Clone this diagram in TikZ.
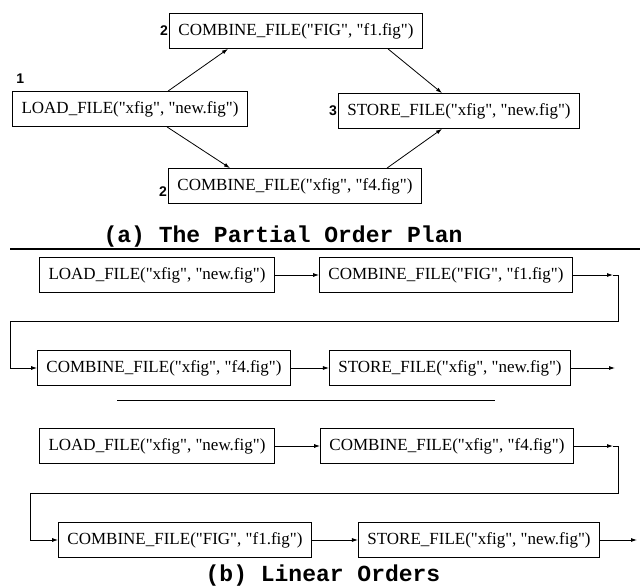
\documentclass[tikz,border=0pt]{standalone}
\usepackage{fontspec}
\setmainfont{Liberation Serif}[Ligatures=TeXOff]
\setsansfont{Liberation Sans}
\setmonofont{Liberation Mono}
\usetikzlibrary{calc}
\usetikzlibrary{positioning}
\usetikzlibrary{arrows.meta}
\tikzset{
  op/.style={draw, line width=0.8pt, minimum height=35pt, inner xsep=9pt,
    font=\fontsize{17}{20}\selectfont},
  num/.style={inner sep=1pt, font=\sffamily\bfseries\fontsize{14}{16}\selectfont},
  heading/.style={inner sep=0pt, font=\ttfamily\bfseries\fontsize{23}{26}\selectfont},
  arr/.style={-{Latex[length=6pt,width=4pt]}, line width=0.8pt}
}

\begin{document}
\begin{tikzpicture}[x=1pt, y=-1pt]
  \useasboundingbox (0,0) rectangle (640,588);

  \node [op] (load1) at (130,109) {LOAD\_FILE("xfig", "new.fig")};
  \node [op] (cfig1) at (296,31) {COMBINE\_FILE("FIG", "f1.fig")};
  \node [op] (cxfig1) at (295,186) {COMBINE\_FILE("xfig", "f4.fig")};
  \node [op] (store1) at (459,111) {STORE\_FILE("xfig", "new.fig")};

  \node [num, above right=6pt and 3pt of load1.north west] (n1) {1};
  \node [num, left=0pt of cfig1] (n2a) {2};
  \node [num, left=0pt of cxfig1.west, yshift=-6pt] (n2b) {2};
  \node [num, left=0pt of store1] (n3) {3};

  \draw [arr] ([xshift=38pt]load1.north) -- ([xshift=-68pt]cfig1.south);
  \draw [arr] ([xshift=37pt]load1.south) -- ([xshift=-65pt]cxfig1.north);
  \draw [arr] ([xshift=92pt]cfig1.south) -- ([xshift=-17pt]store1.north);
  \draw [arr] ([xshift=92pt]cxfig1.north) -- ([xshift=-17pt]store1.south);

  \node [heading] (capa) at (283,237) {(a) The Partial Order Plan};
  \draw [line width=2pt] (10,249) -- (640,249);

  \node [op] (load2) at (157,275) {LOAD\_FILE("xfig", "new.fig")};
  \node [op] (cfig2) at (446,275) {COMBINE\_FILE("FIG", "f1.fig")};
  \node [op] (cxfig2) at (164,368) {COMBINE\_FILE("xfig", "f4.fig")};
  \node [op] (store2) at (450,368) {STORE\_FILE("xfig", "new.fig")};

  \coordinate (t1) at (613,275);
  \coordinate (k1) at (618,321);
  \coordinate (k2) at (10,321);
  \coordinate (e1) at (615,368);
  \draw [arr] (load2.east) -- (cfig2.west);
  \draw [arr] (cfig2.east) -- (t1);
  \draw [arr] (t1) -| (k1) -- (k2) |- (cxfig2.west);
  \draw [arr] (cxfig2.east) -- (store2.west);
  \draw [arr] (store2.east) -- (e1);

  \draw [line width=0.8pt] (117,400) -- (495,400);

  \node [op] (load3) at (157,446) {LOAD\_FILE("xfig", "new.fig")};
  \node [op] (cxfig3) at (447,446) {COMBINE\_FILE("xfig", "f4.fig")};
  \node [op] (cfig3) at (185,540) {COMBINE\_FILE("FIG", "f1.fig")};
  \node [op] (store3) at (479,540) {STORE\_FILE("xfig", "new.fig")};

  \coordinate (t2) at (613,446);
  \coordinate (k3) at (618,493);
  \coordinate (k4) at (30,493);
  \coordinate (e2) at (637,540);
  \draw [arr] (load3.east) -- (cxfig3.west);
  \draw [arr] (cxfig3.east) -- (t2);
  \draw [arr] (t2) -| (k3) -- (k4) |- (cfig3.west);
  \draw [arr] (cfig3.east) -- (store3.west);
  \draw [arr] (store3.east) -- (e2);

  \node [heading] (capb) at (323,576) {(b) Linear Orders};
\end{tikzpicture}
\end{document}
